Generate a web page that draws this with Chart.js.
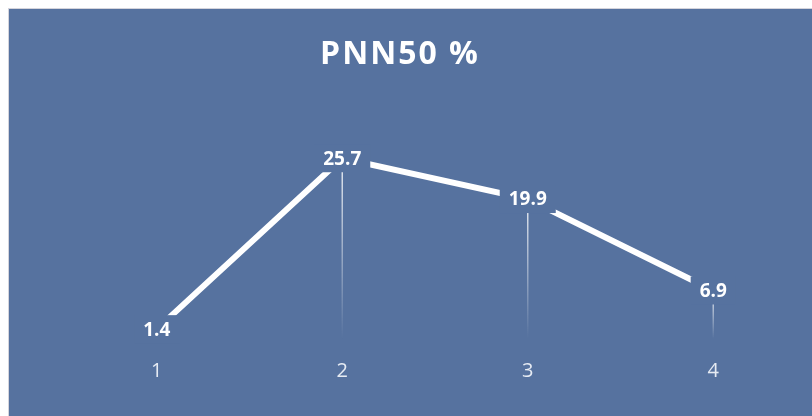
<!DOCTYPE html>
<html>
<head>
<meta charset="utf-8">
<script src="https://cdn.jsdelivr.net/npm/chart.js@4.4.1/dist/chart.umd.min.js"></script>
<style>
  html, body { margin: 0; padding: 0; background: #fff; }
  #box {
    position: absolute; left: 8px; top: 8px;
    width: 803px; height: 407px;
    border-left: 1px solid #d4d4dc; border-top: 1px solid #d4d4dc;
    background: #56729f;
  }
</style>
</head>
<body>
<div id="box"><canvas id="pnnChart" width="803" height="407"></canvas></div>
<script>
const labels = ["1", "2", "3", "4"];
const pnn50 = [1.4, 25.7, 19.9, 6.9];
const titleText = "PNN50 %";

const bg = "#56729f";

// thin fading lines from each point down to zero
const dropLines = {
  id: "dropLines",
  beforeDatasetsDraw(chart) {
    const ctx = chart.ctx;
    const meta = chart.getDatasetMeta(0);
    const y0 = chart.scales.y.getPixelForValue(0);
    ctx.save();
    meta.data.forEach(pt => {
      const g = ctx.createLinearGradient(0, pt.y, 0, y0);
      g.addColorStop(0, "rgba(255,255,255,0.85)");
      g.addColorStop(1, "rgba(255,255,255,0)");
      ctx.strokeStyle = g;
      ctx.lineWidth = 1.5;
      ctx.beginPath();
      ctx.moveTo(pt.x, pt.y);
      ctx.lineTo(pt.x, y0);
      ctx.stroke();
    });
    ctx.restore();
  }
};

// value labels on a patch of background, like the original
const valueLabels = {
  id: "valueLabels",
  afterDatasetsDraw(chart) {
    const ctx = chart.ctx;
    const meta = chart.getDatasetMeta(0);
    ctx.save();
    ctx.font = "bold 19px 'Open Sans'";
    ctx.textAlign = "center";
    ctx.textBaseline = "middle";
    meta.data.forEach((pt, i) => {
      const txt = pnn50[i].toFixed(1);
      const w = ctx.measureText(txt).width;
      ctx.fillStyle = bg;
      ctx.fillRect(pt.x - w / 2 - 9, pt.y - 14, w + 18, 28);
      ctx.fillStyle = "#ffffff";
      ctx.fillText(txt, pt.x, pt.y + 1);
    });
    ctx.restore();
  }
};

const titleDraw = {
  id: "titleDraw",
  afterDraw(chart) {
    const ctx = chart.ctx;
    ctx.save();
    ctx.font = "bold 32px 'Open Sans'";
    ctx.letterSpacing = "2px";
    ctx.fillStyle = "#ffffff";
    ctx.textAlign = "center";
    ctx.textBaseline = "middle";
    ctx.fillText(titleText, 391, 46);
    ctx.restore();
  }
};

new Chart(document.getElementById("pnnChart"), {
  type: "line",
  data: {
    labels: labels,
    datasets: [{
      data: pnn50,
      borderColor: "#ffffff",
      borderWidth: 6,
      pointRadius: 0,
      tension: 0,
      fill: false
    }]
  },
  options: {
    responsive: false,
    animation: false,
    layout: { padding: { left: 55, right: 6, top: 119, bottom: 13 } },
    plugins: { legend: { display: false }, title: { display: false }, tooltip: { enabled: false } },
    scales: {
      x: {
        offset: true,
        grid: { display: false, drawTicks: false },
        border: { display: false },
        ticks: { color: "#e6ebf3", font: { family: "'Open Sans'", size: 20 }, padding: 20 }
      },
      y: {
        display: false,
        min: 0,
        max: 30
      }
    }
  },
  plugins: [dropLines, valueLabels, titleDraw]
});
</script>
</body>
</html>
